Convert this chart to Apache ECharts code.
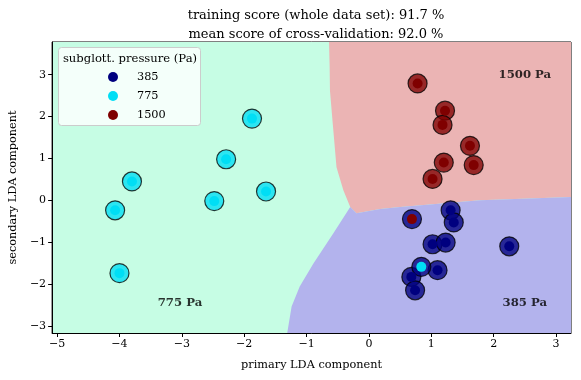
<!DOCTYPE html>
<html>
<head>
<meta charset="utf-8">
<script src="https://cdn.jsdelivr.net/npm/echarts@6/dist/echarts.min.js"></script>
<style>
  html, body { margin: 0; padding: 0; background: #fff; }
  #chart { width: 581px; height: 380px; }
</style>
</head>
<body>
<div id="chart"></div>
<script>
// axis extents and ticks
const xRange = [-5.08, 3.24];
const yRange = [-3.17, 3.78];
const xTicks = [-5, -4, -3, -2, -1, 0, 1, 2, 3];
const yTicks = [-3, -2, -1, 0, 1, 2, 3];

// classes (subglottal pressure, Pa)
const classNames = ['385', '775', '1500'];
const classColors = ['#00007f', '#00def5', '#7f0000'];
const regionColors = ['#b3b3ed', '#c6fde4', '#ebb4b4'];

// LDA projections per true class, and the predicted class of each point
const pts385 = [[1.31, -0.24], [1.36, -0.53], [1.02, -1.05], [1.23, -1.01], [2.25, -1.10], [1.10, -1.67], [0.68, -1.83], [0.74, -2.15]];
const pred385 = ['385', '385', '385', '385', '385', '385', '385', '385'];
const pts775 = [[-1.875, 1.95], [-2.29, 0.98], [-3.80, 0.45], [-4.07, -0.24], [-2.48, -0.02], [-1.65, 0.21], [-4.00, -1.74], [0.84, -1.59]];
const pred775 = ['775', '775', '775', '775', '775', '775', '775', '385'];
const pts1500 = [[0.78, 2.79], [1.22, 2.14], [1.18, 1.80], [1.62, 1.30], [1.20, 0.90], [1.68, 0.84], [1.02, 0.51], [0.69, -0.45]];
const pred1500 = ['1500', '1500', '1500', '1500', '1500', '1500', '1500', '385'];

// decision boundaries
const edge775_1500 = [[-0.64, 3.78], [-0.63, 3.2], [-0.625, 2.62], [-0.58, 1.83], [-0.52, 0.79], [-0.41, 0.24], [-0.30, -0.16], [-0.20, -0.31]];
const edge385_1500 = [[-0.20, -0.31], [0.18, -0.21], [0.50, -0.16], [1.78, 0.0], [3.24, 0.08]];
const edge385_775 = [[-0.30, -0.16], [-0.57, -0.79], [-0.89, -1.51], [-1.11, -2.06], [-1.24, -2.54], [-1.31, -3.17]];

// region annotations
const regionLabels = [[2.5, 3.0, '1500 Pa'], [-3.03, -2.45, '775 Pa'], [2.5, -2.45, '385 Pa']];

const titleLines = ['training score (whole data set): 91.7 %', 'mean score of cross-validation: 92.0 %'];

const FONT = 'DejaVu Serif';

const regionPolys = [
  // 775 fills the whole box, others drawn on top
  { color: regionColors[1], pts: [[xRange[0], yRange[0]], [xRange[0], yRange[1]], [xRange[1], yRange[1]], [xRange[1], yRange[0]]] },
  { color: regionColors[2], pts: edge775_1500.concat(edge385_1500.slice(1), [[xRange[1], yRange[1]]]) },
  { color: regionColors[0], pts: [edge775_1500[edge775_1500.length - 2]].concat(edge385_1500, [[xRange[1], yRange[0]]], edge385_775.slice().reverse()) }
];

function minus(v) {
  return v < 0 ? '\u2212' + Math.abs(v) : String(v);
}

const chart = echarts.init(document.getElementById('chart'), null, { renderer: 'canvas' });

const outerData = [];
[[pts385, pred385], [pts775, pred775], [pts1500, pred1500]].forEach(([pts, pred]) => {
  pts.forEach((p, i) => outerData.push([p[0], p[1], classNames.indexOf(pred[i])]));
});

const option = {
  animation: false,
  textStyle: { fontFamily: FONT },
  title: {
    text: titleLines.join('\n'),
    left: 311,
    top: 1,
    textAlign: 'center',
    textStyle: { fontFamily: FONT, fontSize: 13, fontWeight: 'normal', color: '#000', lineHeight: 19 }
  },
  grid: { left: 52, right: 10, top: 42, bottom: 47, show: true, borderColor: '#000', borderWidth: 1, backgroundColor: 'transparent' },
  xAxis: {
    type: 'value', min: xRange[0], max: xRange[1],
    name: 'primary LDA component', nameLocation: 'middle', nameGap: 27,
    nameTextStyle: { fontFamily: FONT, fontSize: 11.3, color: '#000' },
    axisLine: { show: true, onZero: false, lineStyle: { color: '#000' } },
    axisTick: { show: true, length: 4, lineStyle: { color: '#000' }, customValues: xTicks },
    axisLabel: { color: '#000', fontSize: 11, fontFamily: FONT, margin: 6, customValues: xTicks, formatter: minus },
    splitLine: { show: false }
  },
  yAxis: {
    type: 'value', min: yRange[0], max: yRange[1],
    name: 'secondary LDA component', nameLocation: 'middle', nameGap: 26,
    nameTextStyle: { fontFamily: FONT, fontSize: 11.3, color: '#000' },
    axisLine: { show: true, onZero: false, lineStyle: { color: '#000' } },
    axisTick: { show: true, length: 4, lineStyle: { color: '#000' }, customValues: yTicks },
    axisLabel: { color: '#000', fontSize: 11, fontFamily: FONT, margin: 6, customValues: yTicks, formatter: minus },
    splitLine: { show: false }
  },
  legend: {
    data: classNames,
    orient: 'vertical',
    left: 103,
    top: 66,
    itemWidth: 38,
    itemHeight: 10,
    itemGap: 7,
    icon: 'circle',
    z: 60,
    textStyle: { fontFamily: FONT, fontSize: 11.3, color: '#000', lineHeight: 12 }
  },
  graphic: [
    { type: 'rect', z: 50, shape: { x: 58.5, y: 47.5, width: 142, height: 78, r: 3 },
      style: { fill: 'rgba(255,255,255,0.8)', stroke: '#cccccc', lineWidth: 1 } },
    { type: 'text', z: 51, x: 130, y: 59,
      style: { text: 'subglott. pressure (Pa)', fontFamily: FONT, fontSize: 11.6, fill: '#000', align: 'center', verticalAlign: 'middle' } }
  ],
  series: [
    {
      type: 'custom',
      silent: true,
      z: 0,
      clip: true,
      data: [0],
      renderItem: function (params, api) {
        return {
          type: 'group',
          children: regionPolys.map(r => ({
            type: 'polygon',
            shape: { points: r.pts.map(p => api.coord(p)) },
            style: { fill: r.color, stroke: null }
          }))
        };
      }
    },
    {
      type: 'scatter',
      name: 'predicted',
      silent: true,
      z: 3,
      symbolSize: 19,
      data: outerData,
      itemStyle: {
        color: p => classColors[p.value[2]],
        opacity: 0.78,
        borderColor: '#000',
        borderWidth: 1.2
      }
    },
    ...classNames.map((name, k) => ({
      type: 'scatter',
      name: name,
      z: 4,
      symbolSize: 10,
      data: [pts385, pts775, pts1500][k],
      itemStyle: { color: classColors[k], opacity: 1 }
    })),
    {
      type: 'scatter',
      silent: true,
      z: 5,
      symbolSize: 0,
      data: regionLabels,
      label: {
        show: true,
        position: 'inside',
        formatter: p => p.value[2],
        fontFamily: FONT,
        fontWeight: 'bold',
        fontSize: 11.7,
        color: '#000'
      }
    }
  ]
};

chart.setOption(option);
</script>
</body>
</html>
